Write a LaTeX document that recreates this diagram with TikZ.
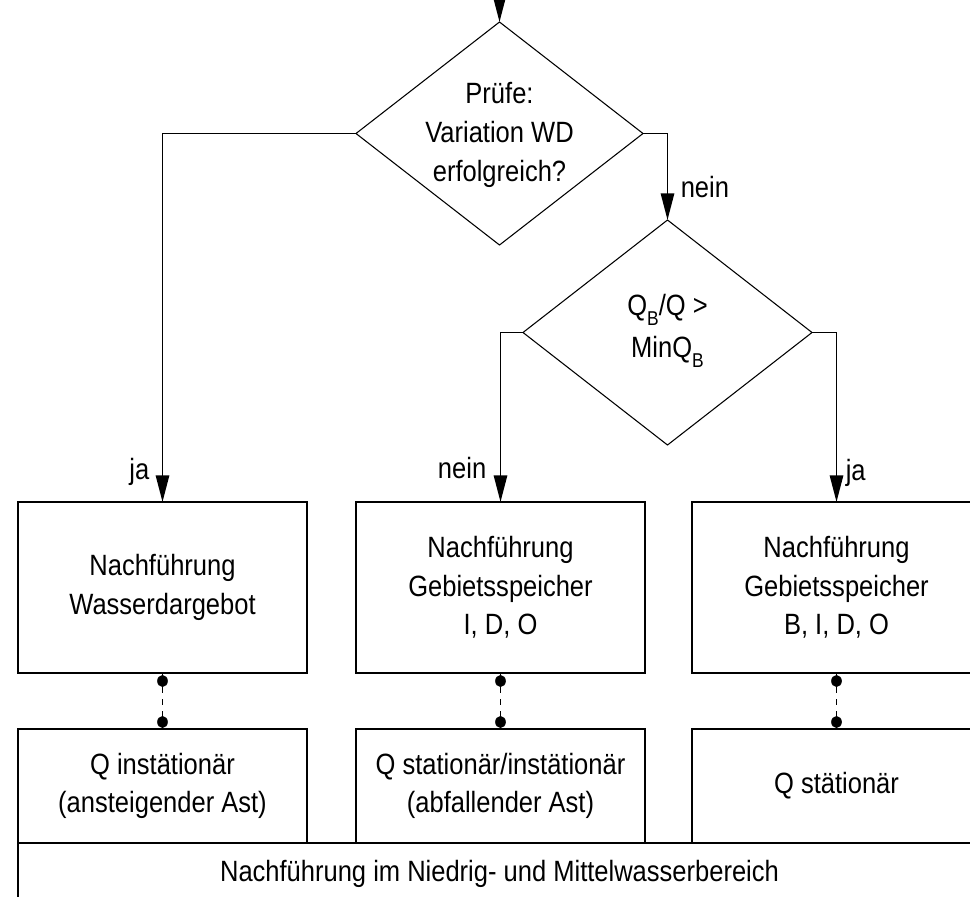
\documentclass[tikz,border=0pt]{standalone}
\usepackage{fontspec}
\setmainfont{Liberation Sans}[FakeStretch=0.87]
\usetikzlibrary{arrows.meta,shapes.geometric,calc}
% lowered subscript used in the second decision
\newcommand\lowsub[1]{\raisebox{-7pt}{\fontsize{15pt}{15pt}\selectfont #1}}

\begin{document}
\begin{tikzpicture}[x=0.75pt,y=-0.75pt,
  every node/.style={font=\fontsize{22pt}{29pt}\selectfont, text=black},
  procbox/.style={draw, line width=1.5pt, minimum width=216.75pt, inner sep=0pt, outer sep=0pt, align=center},
  decision/.style={draw, diamond, line width=0.8pt, inner sep=0pt, outer sep=0pt},
  txt/.style={inner sep=0pt, align=center},
  flow/.style={line width=1.4pt, -{Triangle[length=20pt,width=10pt]}},
  link/.style={line width=1.3pt},
  linkdash/.style={line width=1.3pt, dash pattern=on 4.5pt off 4.5pt},
  dotmark/.style={fill, ellipse, minimum width=8pt, minimum height=9pt, inner sep=0pt},
  answer/.style={inner sep=0pt}
]
\useasboundingbox (0,0) rectangle (970,896);
\clip (0,0) rectangle (970,896);

% decisions
\node[decision, minimum width=215.25pt, minimum height=167.25pt] (d1) at (499.5,133.5) {};
\node[txt] (d1t) at (499.5,135) {Prüfe:\\Variation WD\\erfolgreich?};
\node[decision, minimum width=216.75pt, minimum height=168.75pt] (d2) at (667.5,332.5) {};
\node[txt, font=\fontsize{22pt}{31.5pt}\selectfont] (d2t) at (667.5,331) {Q\lowsub{B}/Q >\\MinQ\lowsub{B}};

% first row of process boxes
\node[procbox, minimum height=128.25pt] (b1) at (162.5,587.5) {Nachführung\\Wasserdargebot};
\node[procbox, minimum height=128.25pt] (b2) at (500.5,587.5) {Nachführung\\Gebietsspeicher\\I, D, O};
\node[procbox, minimum height=128.25pt] (b3) at (836.5,587.5) {Nachführung\\Gebietsspeicher\\B, I, D, O};

% second row: flow states
\node[procbox, minimum height=85.5pt] (c1) at (162.5,786) {Q instätionär\\(ansteigender Ast)};
\node[procbox, minimum height=85.5pt] (c2) at (500.5,786) {Q stationär/instätionär\\(abfallender Ast)};
\node[procbox, minimum height=85.5pt] (c3) at (836.5,786) {Q stätionär};

% common base
\node[procbox, minimum width=722.25pt, minimum height=46.5pt] (base) at (499.5,874) {};
\node[txt, anchor=base] (baset) at (499.5,881) {Nachführung im Niedrig- und Mittelwasserbereich};

% control flow
\coordinate (entry) at (499.5,0);
\draw[flow] (entry) -- (d1.north);
\draw[flow] (d1.west) -| (b1.north);
\draw[flow] (d1.east) -| (d2.north);
\draw[flow] (d2.west) -| (b2.north);
\draw[flow] (d2.east) -| (b3.north);

% branch labels
\node[answer, anchor=base east] (l1) at ($(b1.north)+(-13,-23)$) {ja};
\node[answer, anchor=base west] (l2) at ($(d2.north)+(13,-23)$) {nein};
\node[answer, anchor=base east] (l3) at ($(b2.north)+(-14,-24)$) {nein};
\node[answer, anchor=base west] (l4) at ($(b3.north)+(9,-22)$) {ja};

% dotted associations between the rows
\foreach \i in {1,2,3}{
  \node[dotmark] (ta\i) at ($(b\i.south)+(0,8)$) {};
  \node[dotmark] (tb\i) at ($(c\i.north)+(0,-7)$) {};
  \draw[link] (b\i.south) -- (ta\i.center);
  \draw[linkdash] (ta\i) -- (tb\i);
  \draw[link] (tb\i.center) -- (c\i.north);
}
\end{tikzpicture}
\end{document}
